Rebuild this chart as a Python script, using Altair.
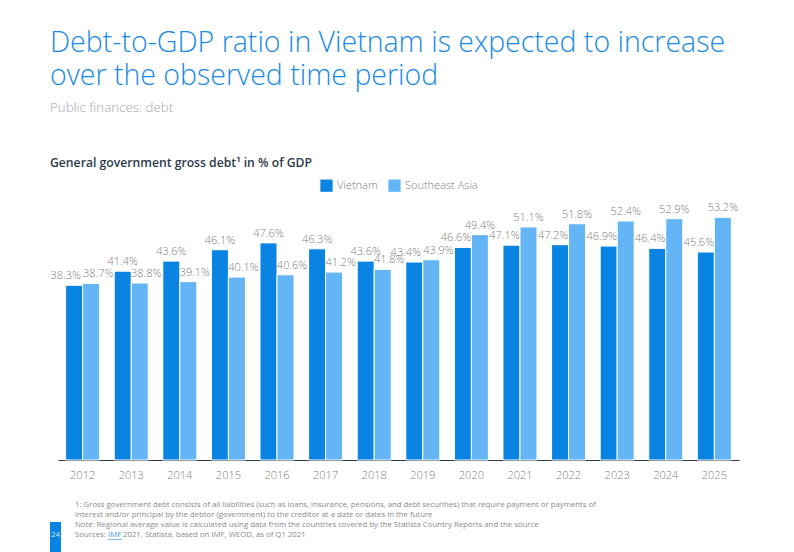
import altair as alt
import pandas as pd

years = [str(y) for y in range(2012, 2026)]
vietnam = [38.3, 41.4, 43.6, 46.1, 47.6, 46.3, 43.6, 43.4, 46.6, 47.1, 47.2, 46.9, 46.4, 45.6]
sea = [38.7, 38.8, 39.1, 40.1, 40.6, 41.2, 41.8, 43.9, 49.4, 51.1, 51.8, 52.4, 52.9, 53.2]
series = ["Vietnam", "Southeast Asia"]
colors = ["#0a84e3", "#64b5f6"]

rows = []
for i, y in enumerate(years):
    v, s = vietnam[i], sea[i]
    # label placement: the lower label of a pair is pushed outward; near-equal pairs both spread
    if abs(v - s) < 1:
        sv, ss = "wideleft", "wideright"
    elif v > s:
        sv, ss = "center", "right"
    else:
        sv, ss = "left", "center"
    rows.append({"year": y, "series": series[0], "value": v, "shift": sv})
    rows.append({"year": y, "series": series[1], "value": s, "shift": ss})
df = pd.DataFrame(rows)
df["label"] = df["value"].map(lambda v: f"{v:.1f}%")

FONT = "Open Sans"
W, H = 681, 260
LBL = "#808080"

x = alt.X("year:N", sort=years, title=None,
          scale=alt.Scale(paddingInner=0.3, paddingOuter=0.157),
          axis=alt.Axis(labelAngle=0, ticks=False, domainColor="#2b3a4a", domainWidth=1.2,
                        labelColor=LBL, labelFontSize=11, labelFont=FONT, labelFontWeight=300,
                        labelPadding=9, grid=False))
y = alt.Y("value:Q", scale=alt.Scale(domain=[0, 57]), axis=None)
xo = alt.XOffset("series:N", sort=series)

bars = alt.Chart(df).mark_bar(stroke="white", strokeWidth=1).encode(
    x=x, y=y, xOffset=xo,
    color=alt.Color("series:N", sort=series,
                    scale=alt.Scale(domain=series, range=colors),
                    legend=alt.Legend(title=None, orient="none", direction="horizontal",
                                      legendX=262, legendY=-21, symbolType="square", symbolSize=150,
                                      symbolStrokeWidth=0, labelFont=FONT, labelFontSize=11,
                                      labelFontWeight=300,
                                      labelColor=LBL, columnPadding=10, symbolOpacity=1)),
)

def labels(shift, dx):
    return alt.Chart(df[df["shift"] == shift]).mark_text(
        dy=-9, dx=dx, font=FONT, fontSize=11, fontWeight=300, color=LBL).encode(
        x=x, y=y, xOffset=xo, text="label:N")

lab_layers = [labels("center", 0), labels("left", -7), labels("right", 6.5),
              labels("wideleft", -8.5), labels("wideright", 7)]

def txt(s, px, py, size, color, weight="normal", align="left"):
    return alt.Chart(pd.DataFrame({"t": [s]})).mark_text(
        text=s, align=align, baseline="middle", font=FONT, fontSize=size,
        color=color, fontWeight=weight
    ).encode(x=alt.value(px), y=alt.value(py))

OX, OY = 58, 200
FN = "#8a8a8a"
texts = [
    txt("Debt-to-GDP ratio in Vietnam is expected to increase", 50 - OX, 43 - OY, 28.5, "#1a8ae6", 300),
    txt("over the observed time period", 50 - OX, 76 - OY, 28.5, "#1a8ae6", 300),
    txt("Public finances: debt", 50 - OX, 108 - OY, 13.3, "#a6a6a6", 300),
    txt("General government gross debt¹ in % of GDP", 50 - OX, 163 - OY, 12.2, "#2b3a4a", 600),
    txt("1: Gross government debt consists of all liabilities (such as loans, insurance, pensions, and debt securities) that require payment or payments of",
        75 - OX, 505 - OY, 7.8, FN),
    txt("interest and/or principal by the debtor (government) to the creditor at a date or dates in the future",
        75 - OX, 515 - OY, 7.8, FN),
    txt("Note: Regional average value is calculated using data from the countries covered by the Statista Country Reports and the source",
        75 - OX, 525 - OY, 7.8, FN),
    txt("Sources:", 75 - OX, 535 - OY, 7.8, FN),
    txt("IMF", 108 - OX, 535 - OY, 7.8, "#3a9be8"),
    txt("2021, Statista, based on IMF, WEOD, as of Q1 2021", 123 - OX, 535 - OY, 7.8, FN),
]

underline = alt.Chart(pd.DataFrame({"a": [0]})).mark_rule(color="#3a9be8", strokeWidth=0.7).encode(
    x=alt.value(108 - OX), x2=alt.value(122 - OX), y=alt.value(539.5 - OY))

page_box = alt.Chart(pd.DataFrame({"a": [0]})).mark_rect(color="#0a84e3").encode(
    x=alt.value(50 - OX), x2=alt.value(61 - OX), y=alt.value(522 - OY), y2=alt.value(552 - OY)
)
page_num = txt("24", 55.5 - OX, 535 - OY, 8, "#cfe6fb", align="center")

chart = alt.layer(bars, *lab_layers, *texts, underline, page_box, page_num).properties(
    width=W, height=H,
    autosize=alt.AutoSizeParams(type="none"),
    padding={"left": OX, "top": OY, "right": 794 - OX - W, "bottom": 552 - OY - H},
    background="white",
).configure_view(stroke=None)

chart.save("out.html", embed_options={"renderer": "svg", "actions": False})
